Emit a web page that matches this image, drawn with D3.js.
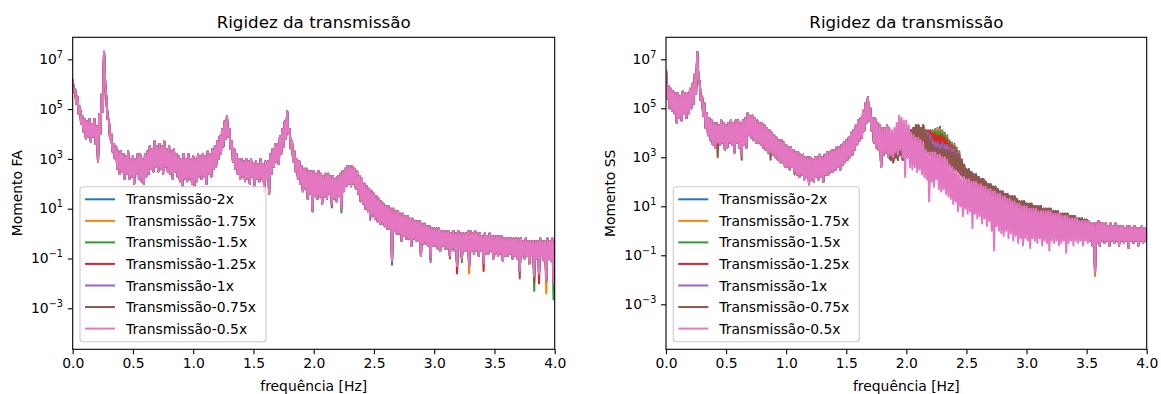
<!DOCTYPE html>
<html><head><meta charset="utf-8">
<script src="https://cdn.jsdelivr.net/npm/d3@7"></script>
<style>
body{margin:0;background:#fff}
svg{display:block}
text{font-family:"DejaVu Sans",sans-serif;fill:#000}
</style></head>
<body><svg id="chart" width="1161" height="394"></svg>
<script>
// ---------- data: log10 of the spectrum amplitude ----------
// Each 0.02 Hz bin gives a local maximum (hi, at f) and a local minimum (lo, at f + 0.01).
const seriesNames = ["Transmissão-2x","Transmissão-1.75x","Transmissão-1.5x","Transmissão-1.25x","Transmissão-1x","Transmissão-0.75x","Transmissão-0.5x"];
const xTicks = [0,0.5,1,1.5,2,2.5,3,3.5,4];
const yTickExps = [-3,-1,1,3,5,7];
const binWidth = 0.02;

// Momento FA, Transmissão-0.5x (top curve; the other series coincide except for listed dips)
const faHi = [
6.2,5.8,5.5,5.1,4.7,4.6,4.5,4.6,4.4,4.6,
4.3,4.8,5.6,7.3,5.4,4.6,4.0,3.6,3.5,3.3,
3.3,3.2,3.1,3.3,3.0,3.1,3.0,3.2,3.2,3.0,
3.2,3.3,3.5,3.4,3.7,3.5,3.6,3.5,3.7,3.4,
3.5,3.3,3.4,3.2,3.1,3.0,3.2,3.0,3.2,3.0,
3.1,3.0,3.2,3.1,3.2,3.1,3.3,3.2,3.4,3.5,
3.7,3.9,4.2,4.5,4.7,4.2,3.7,3.4,3.2,3.0,
3.0,2.9,3.0,2.9,3.0,2.8,2.9,2.8,3.0,2.8,
2.9,2.9,3.2,3.4,3.6,3.6,3.9,4.2,4.5,4.9,
4.2,3.7,3.3,3.0,2.9,2.7,2.6,2.6,2.5,2.5,
2.5,2.4,2.5,2.4,2.3,2.4,2.4,2.3,2.3,2.2,
2.3,2.4,2.5,2.6,2.7,2.7,2.7,2.6,2.5,2.3,
2.2,2.0,1.9,1.8,1.7,1.6,1.5,1.4,1.3,1.2,
1.1,1.1,1.0,1.0,0.9,0.9,0.8,0.8,0.7,0.7,
0.6,0.6,0.5,0.5,0.5,0.4,0.4,0.3,0.3,0.2,
0.2,0.2,0.2,0.1,0.1,0.1,0.1,0.0,0.1,0.0,
0.1,0.0,0.0,0.0,0.1,0.1,0.0,0.1,0.0,0.0,
-0.1,0.0,-0.1,0.0,-0.1,-0.1,-0.1,-0.1,-0.1,-0.2,
-0.2,-0.2,-0.2,-0.2,-0.2,-0.2,-0.2,-0.3,-0.2,-0.3,
-0.3,-0.3,-0.3,-0.3,-0.2,-0.3,-0.3,-0.2,-0.3,-0.2,
-0.3];
const faLo = [
5.7,5.2,4.8,4.4,4.1,3.8,3.9,3.7,3.9,3.6,
2.9,4.0,4.9,6.0,4.6,3.8,3.3,3.0,2.6,2.4,
2.5,2.2,2.4,2.2,2.3,2.0,2.4,2.2,2.1,2.0,
2.3,2.4,2.6,2.5,2.7,2.5,2.6,2.4,2.7,2.5,
2.4,2.2,2.5,2.3,2.1,1.9,2.2,2.1,2.2,2.0,
1.9,2.1,2.3,2.2,2.3,2.0,2.4,2.3,2.6,2.7,
3.0,3.2,3.5,3.8,3.9,3.4,2.9,2.6,2.4,2.2,
2.3,2.1,2.2,2.0,2.3,1.9,2.2,2.1,2.2,1.7,
2.2,1.6,2.4,2.7,2.9,2.8,3.2,3.5,3.8,4.0,
3.4,2.9,2.5,2.2,2.0,1.7,1.8,1.4,1.6,0.9,
1.5,1.4,1.5,1.2,1.5,1.4,1.6,1.2,1.4,1.3,
1.5,1.0,1.7,1.9,2.0,1.9,2.0,1.8,1.6,1.3,
1.2,1.0,0.9,0.7,0.7,0.6,0.5,0.4,0.4,0.3,
0.2,0.2,-1.1,0.1,0.0,0.0,-0.3,-0.1,-0.2,-0.2,
-0.5,-0.2,-0.3,-0.3,-0.9,-0.4,-0.4,-0.5,-1.0,-0.5,
-0.5,-0.6,-0.7,-0.5,-0.6,-0.6,-0.9,-0.6,-0.7,-1.3,
-0.6,-1.0,-0.7,-0.7,-1.3,-0.7,-0.8,-0.7,-0.9,-0.7,
-1.2,-0.8,-0.8,-0.7,-1.0,-0.8,-0.9,-0.8,-1.1,-0.9,
-0.9,-0.8,-1.0,-0.9,-1.0,-1.5,-0.9,-1.0,-0.9,-1.2,
-0.9,-1.7,-1.0,-1.6,-0.9,-1.1,-1.9,-1.0,-1.1,-2.0,
-0.9];
// deeper minima of the other FA series: [frequency, log10 value]
const faDips2x   = [[2.64,-1.25],[2.96,-1.05]];
const faDips175x = [[3.28,-1.6],[3.92,-2.4]];
const faDips15x  = [[2.22,0.85],[3.22,-1.15],[3.82,-2.3],[3.98,-2.65]];
const faDips125x = [[3.18,-1.6],[3.40,-1.5],[3.86,-2.0]];
const faDips1x   = [[2.96,-1.15],[2.46,0.55]];
const faDips075x = [[3.70,-1.8],[3.82,-1.95],[3.12,-1.0],[2.14,1.05]];

// Momento SS, Transmissão-0.5x
const ssHi = [
6.6,5.9,5.8,5.7,5.6,5.6,5.5,5.7,5.6,5.6,
5.8,6.0,6.4,7.3,6.1,5.5,5.2,4.8,4.6,4.5,
4.4,4.4,4.3,4.5,4.4,4.3,4.4,4.5,4.4,4.5,
4.5,4.4,4.5,4.6,4.8,4.7,4.7,4.6,4.5,4.4,
4.4,4.3,4.2,4.1,4.0,3.9,3.8,3.7,3.7,3.6,
3.5,3.4,3.4,3.3,3.2,3.2,3.1,3.1,3.0,3.0,
3.0,2.9,3.0,3.0,3.1,3.0,3.1,3.2,3.2,3.3,
3.3,3.4,3.4,3.5,3.6,3.7,3.8,4.0,4.1,4.3,
4.5,4.6,4.9,5.2,5.45,5.0,4.6,4.6,4.4,4.3,
4.2,4.2,4.3,4.2,4.1,4.2,4.4,4.7,4.6,4.5,
4.5,4.3,4.0,3.9,3.8,3.8,3.7,3.6,3.3,3.2,
3.2,3.2,3.2,3.1,3.1,3.0,3.0,2.9,2.7,2.6,
2.5,2.4,2.3,2.2,2.2,2.1,2.1,2.0,2.0,2.0,
1.9,1.9,1.8,1.8,1.7,1.7,1.6,1.6,1.5,1.5,
1.4,1.4,1.3,1.3,1.2,1.2,1.1,1.1,1.0,1.0,
1.0,0.9,0.9,0.9,0.9,0.8,0.8,0.8,0.8,0.8,
0.8,0.7,0.7,0.7,0.7,0.6,0.6,0.6,0.5,0.5,
0.5,0.5,0.4,0.4,0.4,0.4,0.4,0.3,0.3,0.3,
0.4,0.3,0.3,0.3,0.2,0.3,0.2,0.3,0.2,0.2,
0.2,0.1,0.2,0.2,0.1,0.2,0.1,0.1,0.2,0.1,
0.1];
const ssLo = [
5.4,5.0,4.9,4.8,4.4,4.6,4.5,4.8,4.6,4.8,
5.0,5.2,5.6,6.2,5.3,4.7,4.2,3.9,3.7,3.5,
3.4,3.6,3.5,3.6,3.3,3.4,3.6,3.5,3.2,3.6,
3.4,3.1,3.5,3.4,3.9,3.8,3.7,3.6,3.6,3.5,
3.4,3.3,3.2,3.2,3.1,3.0,2.9,2.8,2.8,2.6,
2.6,2.5,2.6,2.4,2.3,2.2,2.3,2.1,2.2,1.9,
2.1,2.0,2.2,2.1,2.2,2.0,2.3,2.3,2.4,2.4,
2.5,2.6,2.5,2.7,2.8,2.9,3.0,3.1,3.3,3.5,
3.7,3.8,4.1,4.4,4.5,4.1,3.6,3.4,3.3,2.6,
3.1,3.2,3.0,3.1,3.0,3.2,3.1,3.3,3.0,2.2,
3.0,2.6,2.5,2.6,2.4,2.5,2.3,2.2,2.1,1.2,
2.0,1.8,2.1,1.7,1.6,1.7,1.5,1.4,1.3,1.1,
1.2,0.8,1.0,0.6,0.9,0.7,0.8,0.1,0.7,0.5,
0.6,0.3,0.5,0.2,0.4,0.0,-0.8,0.2,0.0,-0.1,
-0.2,0.0,-0.3,-0.1,-0.4,-0.2,-0.5,-0.3,-0.6,-0.3,
-0.4,-0.7,-0.3,-0.4,-0.5,-0.3,-0.6,-0.4,-0.5,-0.8,
-0.4,-0.5,-0.4,-0.6,-0.5,-0.4,-0.9,-0.5,-0.4,-0.6,
-0.4,-0.5,-0.4,-0.6,-0.4,-0.5,-0.4,-0.6,-1.7,-0.5,
-0.6,-0.4,-0.5,-0.4,-0.6,-0.4,-0.5,-0.4,-0.6,-0.4,
-0.5,-0.4,-0.7,-0.4,-0.5,-0.4,-0.6,-0.4,-0.5,-0.4,
-0.3];
// stiffer SS series (0.75x .. 2x) between 1.86 and 3.50 Hz
const ssUpperStart = 1.86;
const ssUpperHi = [
3.6,3.5,3.6,3.5,3.7,3.6,3.8,3.9,4.0,4.1,
4.2,4.3,4.3,4.2,4.3,4.1,3.9,3.7,3.5,3.4,
3.4,3.3,3.4,3.3,3.3,3.3,3.2,3.2,3.1,3.0,
2.9,2.7,2.5,2.5,2.4,2.3,2.3,2.2,2.1,2.1,
2.0,1.9,1.9,1.8,1.8,1.7,1.6,1.6,1.5,1.5,
1.4,1.4,1.4,1.3,1.2,1.2,1.2,1.1,1.1,1.1,
1.0,1.0,1.0,1.0,0.9,0.9,0.9,0.9,0.8,0.8,
0.8,0.7,0.7,0.7,0.7,0.6,0.6,0.6,0.5,0.5,
0.5,0.45,0.45];
const ssUpperLo = [
2.9,2.8,3.0,2.9,3.1,2.9,3.0,3.0,3.1,3.2,
3.3,2.6,3.3,3.2,3.3,3.2,3.1,3.1,3.0,3.0,
2.9,2.9,2.8,2.8,2.7,2.6,2.5,2.5,2.4,2.3,
2.2,2.1,1.9,1.8,1.8,1.7,1.6,1.6,1.5,1.4,
1.4,1.3,1.3,1.2,1.1,1.1,1.0,1.0,0.9,0.9,
0.8,0.8,0.7,0.7,0.6,0.6,0.6,0.5,0.5,0.5,
0.4,0.4,0.4,0.3,0.3,0.3,0.3,0.2,0.2,0.2,
0.2,0.1,0.1,0.1,0.1,0.0,0.0,0.0,0.0,-0.1,
-0.1,-0.1,-0.1];
// resonance maxima 2.16 .. 2.44 Hz of the stiffer series
const ssPeakStart = 2.16;
const ssPeak2x   = [3.9,4.0,4.1,4.1,4.15,4.2,4.25,4.1,4.0,3.9,3.7,3.6,3.55,3.4,3.25];
const ssPeak175x = [3.95,4.0,4.05,4.05,4.1,4.15,4.15,4.05,3.95,3.85,3.65,3.55,3.5,3.35,3.2];
const ssPeak15x  = [4.0,4.0,4.0,4.0,4.05,4.05,4.05,4.0,3.9,3.8,3.6,3.5,3.45,3.3,3.15];
const ssPeak125x = [4.1,4.1,4.1,4.0,3.95,3.9,3.9,3.9,3.8,3.7,3.55,3.45,3.4,3.25,3.1];
const ssPeak1x   = [4.1,4.0,3.9,3.7,3.6,3.6,3.5,3.6,3.5,3.5,3.4,3.35,3.3,3.2,3.05];
const ssDips175x = [[3.56,-1.85]];
const ssDips075x = [[0.42,3.0],[0.62,2.9],[0.86,2.9],[1.06,2.3]];

// ---------- assemble ----------
const colors = ["#1f77b4","#ff7f0e","#2ca02c","#d62728","#9467bd","#8c564b","#e377c2"];
const bin = f => Math.floor(f / binWidth + 1e-6);
function withSegment(base, start, seg){ const v = base.slice(); seg.forEach((val,k) => { v[bin(start)+k] = val; }); return v; }
function withDips(base, dips){ const v = base.slice(); dips.forEach(([f,val]) => { v[bin(f)] = val; }); return v; }
function toPoints(hi, lo){
  const pts = [];
  hi.forEach((h,i) => { pts.push([i*binWidth, h]); pts.push([i*binWidth + binWidth/2, lo[i]]); });
  return pts;
}

const faDipSets = [faDips2x, faDips175x, faDips15x, faDips125x, faDips1x, faDips075x];
const faSeries = seriesNames.map((n,k) => k < 6 ? toPoints(faHi, withDips(faLo, faDipSets[k])) : toPoints(faHi, faLo));

const ssStiffHi = withSegment(ssHi, ssUpperStart, ssUpperHi);
const ssStiffLo = withSegment(ssLo, ssUpperStart, ssUpperLo);
const ssPeaks = [ssPeak2x, ssPeak175x, ssPeak15x, ssPeak125x, ssPeak1x];
const ssSeries = seriesNames.map((n,k) => {
  if (k === 6) return toPoints(ssHi, ssLo);
  const hi = k < 5 ? withSegment(ssStiffHi, ssPeakStart, ssPeaks[k]) : ssStiffHi;
  let lo = ssStiffLo;
  if (k === 1) lo = withDips(lo, ssDips175x);
  if (k === 5) lo = withDips(lo, ssDips075x);
  return toPoints(hi, lo);
});

const panels = [
  {id:"fa", x0:72.7, x1:554.7, y0:37.3, y1:349.3, lmin:-4.647, lmax:7.884, ylabel:"Momento FA", ylabelX:21.5, series:faSeries},
  {id:"ss", x0:666, x1:1146.7, y0:37.3, y1:349.3, lmin:-4.837, lmax:7.898, ylabel:"Momento SS", ylabelX:615, series:ssSeries}
];

const svg = d3.select("#chart");
const defs = svg.append("defs");

panels.forEach(p => {
  const x = d3.scaleLinear().domain([0,4]).range([p.x0,p.x1]);
  const y = d3.scaleLog().domain([Math.pow(10,p.lmin), Math.pow(10,p.lmax)]).range([p.y1,p.y0]);
  defs.append("clipPath").attr("id","clip-"+p.id).append("rect")
    .attr("x",p.x0).attr("y",p.y0).attr("width",p.x1-p.x0).attr("height",p.y1-p.y0);

  const g = svg.append("g");
  const line = d3.line().x(d=>x(d[0])).y(d=>y(Math.pow(10,d[1])));
  const lg = g.append("g").attr("clip-path","url(#clip-"+p.id+")");
  p.series.forEach((pts,k) => {
    lg.append("path").attr("d",line(pts)).attr("fill","none")
      .attr("stroke",colors[k]).attr("stroke-width",2).attr("stroke-linejoin","round");
  });

  g.append("rect").attr("x",p.x0).attr("y",p.y0).attr("width",p.x1-p.x0).attr("height",p.y1-p.y0)
    .attr("fill","none").attr("stroke","#000").attr("stroke-width",1.1);

  const xa = g.append("g").attr("transform",`translate(0,${p.y1})`)
    .call(d3.axisBottom(x).tickValues(xTicks).tickSize(4.9).tickPadding(3.5).tickFormat(d3.format(".1f")));
  xa.select(".domain").remove();
  xa.selectAll(".tick line").attr("stroke","#000").attr("stroke-width",1.1);
  xa.selectAll(".tick text").attr("font-size",13.9).attr("font-family","DejaVu Sans").attr("fill","#000");

  const ya = g.append("g").attr("transform",`translate(${p.x0},0)`)
    .call(d3.axisLeft(y).tickValues(yTickExps.map(e=>Math.pow(10,e))).tickSize(4.9).tickFormat(""));
  ya.select(".domain").remove();
  ya.selectAll(".tick line").attr("stroke","#000").attr("stroke-width",1.1);
  yTickExps.forEach(e => {
    const t = g.append("text").attr("x",p.x0-9.7).attr("y",y(Math.pow(10,e))+4.6)
      .attr("text-anchor","end").attr("font-size",13.9);
    t.append("tspan").text("10");
    t.append("tspan").attr("font-size",9.7).attr("dy",-6).text(e<0 ? "\u2212"+(-e) : String(e));
  });

  const cx = (p.x0+p.x1)/2;
  g.append("text").attr("x",cx).attr("y",27.5).attr("text-anchor","middle").attr("font-size",16.7).text("Rigidez da transmissão");
  g.append("text").attr("x",cx).attr("y",391).attr("text-anchor","middle").attr("font-size",13.9).text("frequência [Hz]");
  g.append("text").attr("transform",`translate(${p.ylabelX},${(p.y0+p.y1)/2}) rotate(-90)`)
    .attr("text-anchor","middle").attr("font-size",13.9).text(p.ylabel);

  const lx = p.x0+7.3, ly = 186.7;
  const leg = g.append("g");
  leg.append("rect").attr("x",lx).attr("y",ly).attr("width",186).attr("height",155).attr("rx",3)
    .attr("fill","#fff").attr("fill-opacity",0.8).attr("stroke","#ccc").attr("stroke-width",1.1);
  seriesNames.forEach((name,k) => {
    const ry = ly + 12.6 + k*21.55;
    leg.append("line").attr("x1",lx+5).attr("x2",lx+35).attr("y1",ry).attr("y2",ry)
      .attr("stroke",colors[k]).attr("stroke-width",2);
    leg.append("text").attr("x",lx+46).attr("y",ry+5).attr("font-size",13.9).text(name);
  });
});
</script></body></html>
